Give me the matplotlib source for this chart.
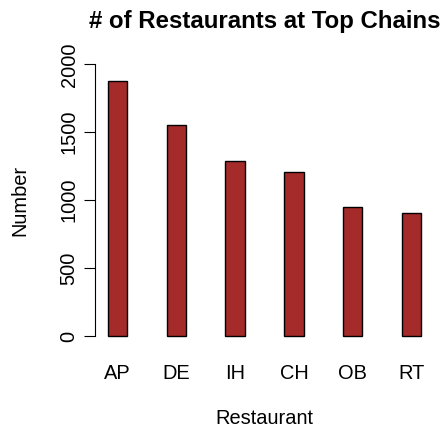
import matplotlib as mpl
mpl.use("Agg")
import matplotlib.pyplot as plt

plt.rcParams["font.family"] = ["Liberation Sans", "DejaVu Sans"]

# Data
restaurants = ["AP", "DE", "IH", "CH", "OB", "RT"]
counts = [1880, 1554, 1285, 1206, 948, 903]
y_ticks = [0, 500, 1000, 1500, 2000]

# R barplot style positions: width 1, space 2
xpos = [2.5 + 3 * i for i in range(len(restaurants))]

fig = plt.figure(figsize=(4.46, 4.32), dpi=100)
ax = fig.add_axes([0.2135, 0.1968, 0.7591, 0.6796])

ax.bar(xpos, counts, width=1, color="#A52A2A", edgecolor="black", linewidth=1)

ax.set_xlim(1.36, 18.64)
ax.set_ylim(-80, 2080)

for s in ["top", "right", "bottom"]:
    ax.spines[s].set_visible(False)
ax.spines["left"].set_bounds(0, 2000)
ax.spines["left"].set_linewidth(0.8)

ax.set_yticks(y_ticks)
ax.set_yticklabels([str(v) for v in y_ticks], rotation=90, va="center", fontsize=14.4)
ax.tick_params(axis="y", length=8, width=0.8, pad=4)

ax.set_xticks(xpos)
ax.set_xticklabels(restaurants, fontsize=14.4)
ax.tick_params(axis="x", length=0, pad=12)

ax.set_xlabel("Restaurant", fontsize=14.4, labelpad=19)
ax.set_ylabel("Number", fontsize=14.4, labelpad=22)
ax.set_title("# of Restaurants at Top Chains", fontsize=17.3, fontweight="bold", pad=18)

fig.savefig("out.png", dpi=100)
